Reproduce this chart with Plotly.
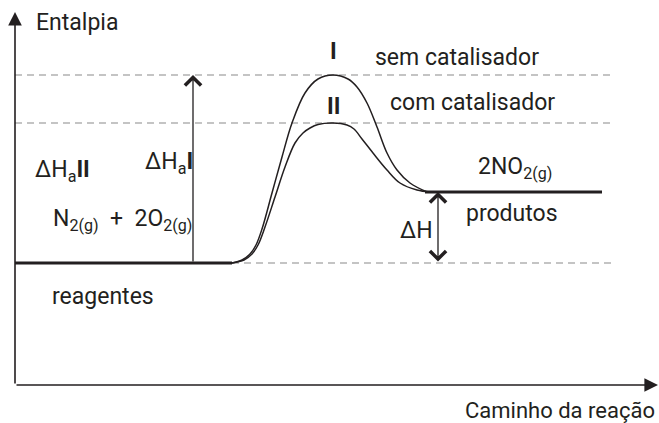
import plotly.graph_objects as go

# Enthalpy levels (arbitrary units; reagents = 0)
H_REAG = 0
H_PROD = 71
H_PEAK_I = 188
H_PEAK_II = 140

# Reaction coordinate samples
curve_I_x = [232, 242, 250, 256, 262, 272, 282, 292, 305, 318, 333, 348, 357, 367, 377, 387, 397, 410, 427]
curve_I_y = [0, 3, 9, 18, 34, 70, 106, 140, 170, 184, 188, 184, 176, 160, 136, 110, 93, 80, 71]
curve_II_x = [232, 244, 252, 258, 265, 275, 285, 295, 303, 310, 318, 333, 347, 354, 362, 373, 387, 400, 417, 430]
curve_II_y = [0, 3, 9, 18, 36, 66, 96, 120, 130, 135, 138.5, 140, 138, 134, 124, 110, 93, 80, 73, 71]

reag_x = [15, 232]
prod_x = [425, 602]
dash_top_x = [15, 612]
dash_base_x = [232, 612]

X_RANGE = [0, 659]
Y_RANGE = [-160, 263]
AXIS_Y = -122
AXIS_X = 15

FONT = "Roboto, Liberation Sans, sans-serif"
INK = "#231f20"
GRAY = "#8a8a8a"

fig = go.Figure()

def line(x, y, color, width, dash=None):
    fig.add_trace(go.Scatter(x=x, y=y, mode="lines", hoverinfo="skip",
                             line=dict(color=color, width=width, dash=dash)))

line(dash_top_x, [H_PEAK_I] * 2, GRAY, 1.2, "7px,5px")
line(dash_top_x, [H_PEAK_II] * 2, GRAY, 1.2, "7px,5px")
line(dash_base_x, [H_REAG] * 2, GRAY, 1.2, "7px,5px")
line(reag_x, [H_REAG] * 2, INK, 3)
line(prod_x, [H_PROD] * 2, INK, 3)

fig.add_trace(go.Scatter(x=curve_I_x, y=curve_I_y, mode="lines", hoverinfo="skip",
                         line=dict(color=INK, width=1.5, shape="spline", smoothing=1.0)))
fig.add_trace(go.Scatter(x=curve_II_x, y=curve_II_y, mode="lines", hoverinfo="skip",
                         line=dict(color=INK, width=1.5, shape="spline", smoothing=1.0)))

def arrow(x, y, ax, ay, head, size, width, side="end"):
    fig.add_annotation(x=x, y=y, ax=ax, ay=ay, xref="x", yref="y", axref="x", ayref="y",
                       text="", showarrow=True, arrowhead=head, startarrowhead=head,
                       arrowsize=size, startarrowsize=size, arrowwidth=width,
                       arrowcolor=INK, arrowside=side)

# axes
arrow(AXIS_X, 251, AXIS_X, AXIS_Y, 2, 1.7, 1.6)
arrow(658, AXIS_Y, AXIS_X, AXIS_Y, 2, 1.7, 1.6)
# activation energy arrow
arrow(193, H_PEAK_I, 193, H_REAG, 4, 2.4, 1.3)
# delta H double arrow
arrow(438, H_PROD, 438, H_REAG, 4, 2.4, 1.3, "end+start")

def label(x, y, text, size=23, anchor="center"):
    fig.add_annotation(x=x, y=y, xref="x", yref="y", text=text, showarrow=False,
                       xanchor=anchor, yanchor="middle",
                       font=dict(family=FONT, size=size, color=INK))

label(34, 241, "Entalpia", anchor="left")
label(457, 206, "sem catalisador")
label(472, 161, "com catalisador")
label(333, 212, "<b>I</b>")
label(333, 157, "<b>II</b>")
label(169, 100, "ΔH<sub>a</sub><b>I</b>")
label(62, 92, "ΔH<sub>a</sub><b>II</b>")
label(122, 43, "N<sub>2(g)</sub>  +  2O<sub>2(g)</sub>")
label(103, -33, "reagentes")
label(515, 95, "2NO<sub>2(g)</sub>")
label(512, 50, "produtos")
label(416, 33, "ΔH")
label(657, -147, "Caminho da reação", size=22, anchor="right")

fig.update_layout(
    width=659, height=423,
    margin=dict(l=0, r=0, t=0, b=0),
    paper_bgcolor="white", plot_bgcolor="white",
    showlegend=False,
    xaxis=dict(range=X_RANGE, visible=False, fixedrange=True),
    yaxis=dict(range=Y_RANGE, visible=False, fixedrange=True),
)

fig.write_html("out.html", config={"displayModeBar": False},
               post_script="document.body.style.margin='0px';document.body.style.overflow='hidden';")
